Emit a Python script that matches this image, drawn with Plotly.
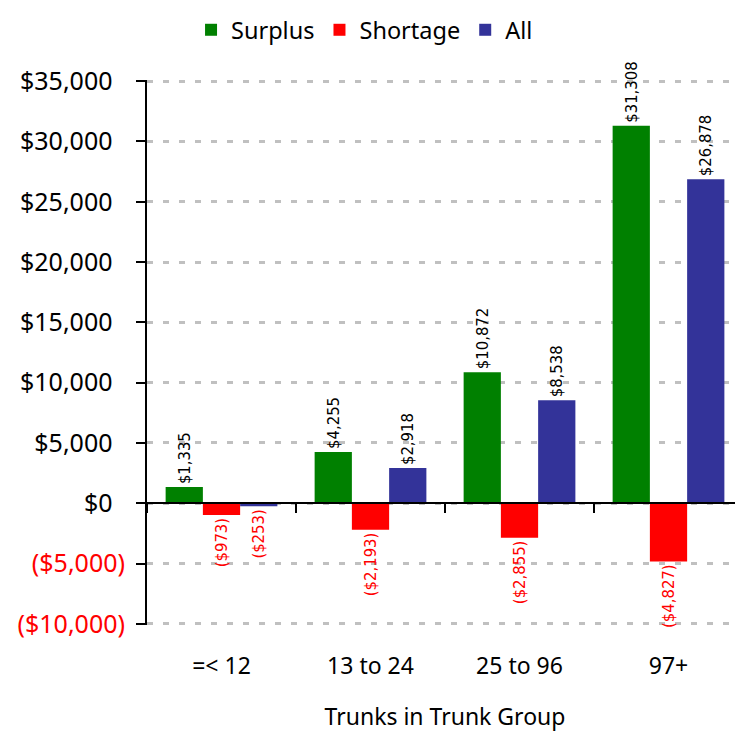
import plotly.graph_objects as go

categories = ["=< 12", "13 to 24", "25 to 96", "97+"]
surplus = [1335, 4255, 10872, 31308]
shortage = [-973, -2193, -2855, -4827]
all_vals = [-253, 2918, 8538, 26878]

tick_vals = [35000, 30000, 25000, 20000, 15000, 10000, 5000, 0, -5000, -10000]
tick_text = ["$35,000\u2002", "$30,000\u2002", "$25,000\u2002", "$20,000\u2002", "$15,000\u2002",
             "$10,000\u2002", "$5,000\u2002", "$0\u2002",
             '<span style="color:#FF0000">($5,000)</span>',
             '<span style="color:#FF0000">($10,000)</span>']

def fmt(v):
    return f"${v:,.0f}" if v >= 0 else f"(${-v:,.0f})"

def colors(vals):
    return ["#000000" if v >= 0 else "#FF0000" for v in vals]

label_font = "Liberation Sans Narrow, DejaVu Sans Condensed, Arial Narrow, sans-serif"
main_font = "Noto Sans, DejaVu Sans, sans-serif"

fig = go.Figure()
for name, vals, col in [("Surplus", surplus, "#008000"),
                        ("Shortage", shortage, "#FF0000"),
                        ("All", all_vals, "#333399")]:
    fig.add_trace(go.Bar(
        name=name, x=categories, y=vals, marker_color=col, marker_line_width=0,
        text=[fmt(v) for v in vals], textposition="outside", textangle=-90,
        constraintext="none",
        textfont=dict(family=label_font, size=16.5, color=colors(vals)),
        cliponaxis=False,
    ))

# invisible trace for the zero-line axis with boundary ticks
fig.add_trace(go.Scatter(x=categories, y=[None] * 4, xaxis="x2", showlegend=False,
                         hoverinfo="skip", mode="markers"))

fig.update_layout(
    width=735, height=724,
    margin=dict(l=139, r=0, t=72, b=107, autoexpand=False),
    paper_bgcolor="white", plot_bgcolor="white",
    font=dict(family=main_font, size=24, color="#000000"),
    barmode="group", bargap=0.25, bargroupgap=0,
    legend=dict(orientation="h", x=0.365, xanchor="center", yref="container", y=1.0,
                yanchor="top", font=dict(size=23.5), itemwidth=30, traceorder="normal"),
    xaxis=dict(type="category", categoryorder="array", categoryarray=categories,
               range=[-0.5, 3.5], showline=False, showgrid=False, zeroline=False,
               ticks="outside", ticklen=20, tickcolor="rgba(0,0,0,0)", automargin=False,
               tickfont=dict(size=23),
               title=dict(text="Trunks in Trunk Group", font=dict(size=23), standoff=30)),
    xaxis2=dict(type="category", categoryorder="array", categoryarray=categories,
                range=[-0.5, 3.5], overlaying="x", anchor="free", position=10100 / 45200,
                side="bottom", showline=True, linecolor="#000000", linewidth=2,
                ticks="outside", ticklen=9, tickwidth=2, tickcolor="#000000",
                tickson="boundaries", showticklabels=False, showgrid=False, zeroline=False),
    yaxis=dict(range=[-10100, 35100], tickvals=tick_vals, ticktext=tick_text,
               showline=True, linecolor="#000000", linewidth=2, automargin=False,
               ticks="outside", ticklen=9, tickwidth=2, tickcolor="#000000",
               ticklabelstandoff=6,
               showgrid=True, gridcolor="#C0C0C0", gridwidth=2.5, griddash="6px,10px",
               zeroline=False, tickfont=dict(size=25)),
)

fig.write_html("out.html")
